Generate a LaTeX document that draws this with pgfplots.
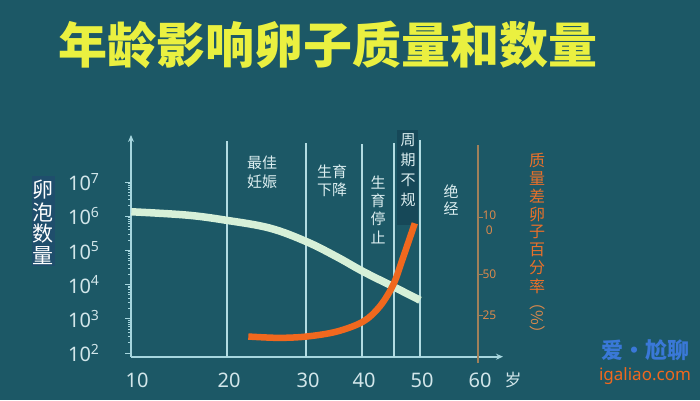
\documentclass[border=0pt]{standalone}
\usepackage{fontspec}
\setmainfont{Noto Sans}
\newfontfamily\cjk{Noto Sans CJK SC}
\usepackage{pgfplots}
\pgfplotsset{compat=1.18}
\usetikzlibrary{arrows.meta}
\definecolor{bg}{HTML}{1C5866}
\definecolor{axiscol}{HTML}{A6D6DE}
\definecolor{vline}{HTML}{B2DCE2}
\definecolor{ticktxt}{HTML}{D2E6EA}
\definecolor{mint}{HTML}{D6F0D8}
\definecolor{orng}{HTML}{F0681E}
\definecolor{rax}{HTML}{A0805A}
\definecolor{rtxt}{HTML}{D8884C}
\definecolor{rlab}{HTML}{E8702A}
\definecolor{ttl}{HTML}{EAF040}
\definecolor{lbl}{HTML}{DCEEF0}
\definecolor{boxa}{HTML}{1F4E6C}
\definecolor{boxb}{HTML}{164858}
\definecolor{wmblue}{HTML}{3A78D8}
\def\agemap#1{ifthenelse(#1<20,135+(#1-10)*9.2,ifthenelse(#1<30,227+(#1-20)*7.9,ifthenelse(#1<40,306+(#1-30)*5.6,ifthenelse(#1<45,362+(#1-40)*6.4,ifthenelse(#1<50,394+(#1-45)*5.2,420+(#1-50)*5.8)))))}
\begin{document}
\begin{tikzpicture}
\fill[bg] (0pt,0pt) rectangle (700pt,400pt);
% subtle boxes
\fill[boxa] (32pt,134pt) rectangle (55pt,224pt);
\fill[boxb] (397pt,175pt) rectangle (418pt,270pt);
% title
\node[text=ttl] at (328pt,355pt) {\cjk\bfseries\fontsize{49}{49}\selectfont 年龄影响卵子质量和数量};
% main axis
\begin{axis}[
  at={(131pt,43.3pt)}, anchor=south west,
  scale only axis, width=372pt, height=221.7pt,
  clip=false,
  x coord trafo/.code={\pgfmathparse{\agemap{#1}}},
  xmin=9.565, xmax=64.31,
  ymode=log, ymin=78, ymax=2.37e8,
  axis lines=left,
  axis line style={draw=axiscol, line width=1.6pt, -{Stealth[length=7pt,width=6pt]}},
  xtick={10,20,30,40,50,60},
  xticklabels={10,20,30,40,50,60},
  xtick style={draw=none},
  xticklabel style={text=ticktxt, font=\fontsize{20}{20}\selectfont, yshift=-7pt, xshift=2pt},
  ytick={1e2,1e3,1e4,1e5,1e6,1e7},
  yticklabels={10\textsuperscript{2},10\textsuperscript{3},10\textsuperscript{4},10\textsuperscript{5},10\textsuperscript{6},10\textsuperscript{7}},
  ytick style={draw=axiscol, line width=1pt},
  tick align=outside, major tick length=6pt,
  minor tick num=0,
  yticklabel style={text=ticktxt, font=\fontsize{20}{20}\selectfont, xshift=-22pt},
]
\addplot[vline, line width=1.6pt] coordinates {(20,78) (20,1.6e8)};
\addplot[vline, line width=1.6pt] coordinates {(30,78) (30,1.4e8)};
\addplot[vline, line width=1.6pt] coordinates {(40,78) (40,1.3e8)};
\addplot[vline, line width=1.6pt] coordinates {(45,78) (45,1.4e8)};
\addplot[vline, line width=1.6pt] coordinates {(50,78) (50,1.7e8)};
\addplot[mint, line width=7.5pt, smooth, tension=0.6] coordinates {
(9.6,1.35e6) (15.6,1.08e6) (19.8,7.7e5) (25.4,4.5e5) (30.1,1.8e5) (35.5,6.5e4) (40.2,2.4e4) (44.9,8.7e3) (50,3.5e3)};
\end{axis}
% right axis and orange curve
\begin{axis}[
  at={(131pt,37pt)}, anchor=south west,
  scale only axis, width=347pt, height=218pt,
  clip=false,
  x coord trafo/.code={\pgfmathparse{\agemap{#1}}},
  xmin=9.565, xmax=60,
  y coord trafo/.code={\pgfmathparse{ifthenelse(#1<50,6.3+#1*1.654,89+(#1-50)*1.14)}},
  ymin=-3.81, ymax=163.2,
  axis x line=none, axis y line*=right,
  y axis line style={draw=rax, line width=2pt, -},
  ytick={25,50,100},
  yticklabels={25,50,{\raisebox{-4pt}{\smash{\begin{tabular}[t]{@{}c@{}}10\\[1pt]0\end{tabular}}}}},
  ytick style={draw=rax, line width=1pt},
  tick align=outside, major tick length=5pt,
  yticklabel style={text=rtxt, font=\bfseries\fontsize{12}{14}\selectfont, xshift=-4pt},
]
\addplot[orng, line width=6.5pt, smooth, tension=0.55] coordinates {
(22.7,12.2) (26.5,11.4) (30.1,12.2) (35.5,15.2) (40.2,21.3) (42.8,30.5) (44.9,43.7) (46.8,65.2) (49.0,94.5)};
\end{axis}
% left label
\begin{scope}[every node/.style={text=white, font=\cjk\fontsize{21}{21}\selectfont}]
\node at (43pt,210pt) {卵};
\node at (43pt,188pt) {泡};
\node at (43pt,166pt) {数};
\node at (43pt,144pt) {量};
\end{scope}
% region labels
\begin{scope}[every node/.style={text=lbl, font=\cjk\fontsize{15}{15}\selectfont, inner sep=0pt}]
\node at (262pt,237pt) {最佳};
\node at (262pt,218pt) {妊娠};
\node at (332pt,228pt) {生育};
\node at (332pt,210pt) {下降};
\node at (378pt,217pt) {生};
\node at (378pt,199pt) {育};
\node at (378pt,181pt) {停};
\node at (378pt,163pt) {止};
\node at (408pt,260pt) {周};
\node at (408pt,240pt) {期};
\node at (408pt,220pt) {不};
\node at (408pt,200pt) {规};
\node at (451pt,208pt) {绝};
\node at (451pt,191pt) {经};
\end{scope}
% right label
\begin{scope}[every node/.style={text=rlab, font=\cjk\fontsize{16}{16}\selectfont, inner sep=0pt}]
\node at (537pt,240pt) {质};
\node at (537pt,222pt) {量};
\node at (537pt,204pt) {差};
\node at (537pt,186pt) {卵};
\node at (537pt,168pt) {子};
\node at (537pt,150pt) {百};
\node at (537pt,132pt) {分};
\node at (537pt,114pt) {率};
\node[rotate=-90, text=rtxt] at (538pt,82pt) {（\%）};
\end{scope}
% unit
\node[text=ticktxt, font=\cjk\fontsize{17}{17}\selectfont] at (513pt,20pt) {岁};
% watermark text
\node[text=wmblue, font=\cjk\bfseries\fontsize{22}{22}\selectfont] at (645pt,50pt) {爱·尬聊};
\node[text=orng, font=\fontsize{17}{17}\selectfont] at (645pt,24pt) {igaliao.com};
\end{tikzpicture}
\end{document}
